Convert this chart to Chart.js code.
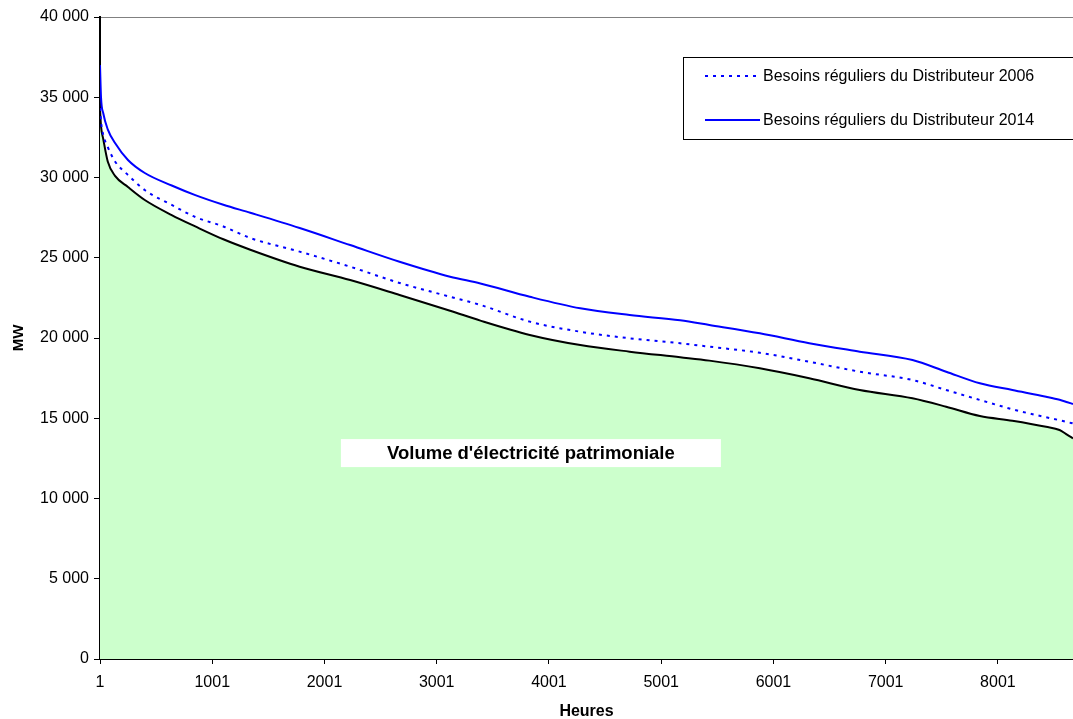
<!DOCTYPE html>
<html lang="fr">
<head>
<meta charset="utf-8">
<title>Besoins réguliers du Distributeur</title>
<script src="https://cdn.jsdelivr.net/npm/chart.js@4.4.1/dist/chart.umd.min.js"></script>
<style>
  html, body { margin: 0; padding: 0; background: #fff; }
  #wrap { width: 1073px; height: 719px; }
</style>
</head>
<body>
<div id="wrap"><canvas id="monotoneChart" width="1073" height="719"></canvas></div>
<script>
// heures classées (monotone de charge)
const heures = [1, 10, 30, 70, 135, 250, 400, 640, 850, 1100, 1340, 1780, 2230, 2670, 3120, 3390,
                3830, 4280, 4720, 5170, 5430, 5880, 6320, 6770, 7240, 7540, 7840, 8130, 8430, 8550, 8620, 8670];

const besoins2006 = [34330, 33500, 32650, 31900, 31000, 30160, 29220, 28290, 27540, 26950, 26230, 25380, 24440, 23430, 22570, 22060,
                     21020, 20390, 19980, 19670, 19460, 19080, 18520, 17900, 17380, 16760, 16140, 15560, 15060, 14880, 14760, 14680];

const besoins2014 = [37000, 35000, 34000, 33000, 32150, 31090, 30280, 29500, 28900, 28300, 27800, 26850, 25790, 24750, 23820, 23400,
                     22570, 21850, 21430, 21100, 20810, 20290, 19670, 19150, 18630, 17900, 17180, 16760, 16340, 16150, 16000, 15890];

const patrimonial = [34300, 33200, 32400, 31000, 30100, 29410, 28600, 27660, 26950, 26150, 25500, 24440, 23610, 22680, 21700, 21080,
                     20190, 19560, 19150, 18800, 18590, 18110, 17490, 16760, 16240, 15720, 15140, 14850, 14470, 14270, 13960, 13750];

const xTicks = [1, 1001, 2001, 3001, 4001, 5001, 6001, 7001, 8001];
const legende2006 = 'Besoins réguliers du Distributeur 2006';
const legende2014 = 'Besoins réguliers du Distributeur 2014';
const etiquetteVolume = "Volume d'électricité patrimoniale";

const FONT = '"Liberation Sans", Arial, sans-serif';

function pts(vals) {
    return heures.map((h, i) => ({ x: h, y: vals[i] }));
}

function formatMW(v) {
    return String(v).replace(/\B(?=(\d{3})+(?!\d))/g, ' ');
}

// legende encadree + etiquette blanche au milieu de l'aire verte
const decorations = {
    id: 'decorations',
    afterDatasetsDraw(chart) {
        const ctx = chart.ctx;
        const xs = chart.scales.x, ys = chart.scales.y;
        ctx.save();

        // etiquette du volume
        const cx = xs.getPixelForValue(3840), cy = ys.getPixelForValue(12830);
        ctx.fillStyle = '#fff';
        ctx.fillRect(cx - 190, cy - 14, 380, 28);
        ctx.font = 'bold 18.5px ' + FONT;
        ctx.fillStyle = '#000';
        ctx.textAlign = 'center';
        ctx.textBaseline = 'middle';
        ctx.fillText(etiquetteVolume, cx, cy + 1);

        // legende
        const lx = 683.5, ly = 57.5;
        ctx.fillStyle = '#fff';
        ctx.fillRect(lx, ly, 400, 82);
        ctx.strokeStyle = '#000';
        ctx.lineWidth = 1;
        ctx.strokeRect(lx, ly, 400, 82);

        const items = [
            { text: legende2006, ds: chart.data.datasets[0], y: 76 },
            { text: legende2014, ds: chart.data.datasets[1], y: 120 }
        ];
        ctx.textAlign = 'left';
        ctx.font = '16px ' + FONT;
        items.forEach(it => {
            ctx.beginPath();
            ctx.strokeStyle = it.ds.borderColor;
            ctx.lineWidth = 2;
            ctx.setLineDash(it.ds.borderDash || []);
            ctx.moveTo(705, it.y);
            ctx.lineTo(760, it.y);
            ctx.stroke();
            ctx.setLineDash([]);
            ctx.fillStyle = '#000';
            ctx.fillText(it.text, 763, it.y + 1);
        });
        ctx.restore();
    }
};

new Chart(document.getElementById('monotoneChart'), {
    type: 'line',
    data: {
        datasets: [
            {
                label: legende2006,
                data: pts(besoins2006),
                borderColor: '#0000FF',
                borderWidth: 2,
                borderDash: [3, 5],
                pointRadius: 0,
                fill: false,
                cubicInterpolationMode: 'monotone'
            },
            {
                label: legende2014,
                data: pts(besoins2014),
                borderColor: '#0000FF',
                borderWidth: 2,
                pointRadius: 0,
                fill: false,
                cubicInterpolationMode: 'monotone'
            },
            {
                label: etiquetteVolume,
                data: pts(patrimonial),
                borderColor: '#000000',
                borderWidth: 2,
                backgroundColor: '#CCFFCC',
                pointRadius: 0,
                fill: 'origin',
                cubicInterpolationMode: 'monotone'
            }
        ]
    },
    options: {
        responsive: false,
        animation: false,
        layout: { padding: { top: 17, right: 0, left: 0, bottom: 0 } },
        plugins: {
            legend: { display: false },
            tooltip: { enabled: false }
        },
        scales: {
            x: {
                type: 'linear',
                min: 1,
                max: 8670,
                afterBuildTicks: axis => { axis.ticks = xTicks.map(v => ({ value: v })); },
                afterFit: axis => { axis.height = 60; },
                border: { color: '#000', width: 2 },
                grid: { drawOnChartArea: false, tickColor: '#000', tickLength: 5 },
                ticks: {
                    color: '#000',
                    font: { family: FONT, size: 16 },
                    maxRotation: 0,
                    autoSkip: false,
                    padding: 9,
                    callback: v => String(v)
                },
                title: {
                    display: true,
                    text: 'Heures',
                    color: '#000',
                    font: { family: FONT, size: 16, weight: 'bold' },
                    padding: { top: 0, bottom: -2 }
                }
            },
            y: {
                min: 0,
                max: 40000,
                afterFit: axis => { axis.width = 100; },
                border: { color: '#000', width: 2 },
                grid: {
                    color: c => (c.tick && c.tick.value === 40000 ? '#808080' : 'rgba(0,0,0,0)'),
                    tickColor: '#000',
                    tickLength: 6
                },
                ticks: {
                    stepSize: 5000,
                    color: '#000',
                    font: { family: FONT, size: 16 },
                    padding: 5,
                    callback: v => formatMW(v)
                },
                title: {
                    display: true,
                    text: 'MW',
                    color: '#000',
                    font: { family: FONT, size: 15, weight: 'bold' },
                    padding: { top: 10, bottom: 0 }
                }
            }
        }
    },
    plugins: [decorations]
});
</script>
</body>
</html>
